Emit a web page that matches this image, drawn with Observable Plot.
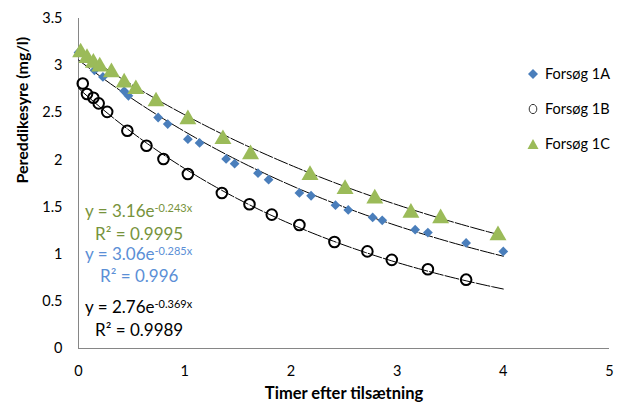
<!DOCTYPE html>
<html>
<head>
<meta charset="utf-8">
<script src="https://cdn.jsdelivr.net/npm/d3@7"></script>
<script src="https://cdn.jsdelivr.net/npm/@observablehq/plot@0.6"></script>
<style>
  body { margin: 0; background: #fff; }
  #wrap { position: relative; width: 622px; height: 409px; font-family: Lato, "Open Sans", sans-serif; }
  .eq { position: absolute; font-size: 17px; line-height: 14px; white-space: nowrap; }
  .eq sup { font-size: 11px; position: relative; top: -1px; vertical-align: top; line-height: 9px; }
  .leg { position: absolute; left: 527px; font-size: 14.5px; display: flex; align-items: center; white-space: nowrap; }
  .leg svg { margin-right: 6px; }
</style>
</head>
<body>
<div id="wrap"></div>
<script>
// Forsøg 1A (blue diamonds)
const xA = [0.00,0.15,0.23,0.43,0.47,0.75,0.84,1.03,1.14,1.39,1.47,1.69,1.79,2.08,2.19,2.42,2.54,2.77,2.86,3.17,3.29,3.65,4.00];
const yA = [3.14,2.95,2.88,2.73,2.68,2.45,2.38,2.22,2.18,2.01,1.96,1.86,1.79,1.65,1.62,1.52,1.47,1.39,1.36,1.26,1.23,1.12,1.03];
// Forsøg 1B (open circles)
const xB = [0.04,0.08,0.14,0.19,0.27,0.46,0.64,0.80,1.03,1.35,1.61,1.82,2.08,2.41,2.72,2.95,3.29,3.65];
const yB = [2.81,2.70,2.66,2.60,2.51,2.31,2.15,2.01,1.85,1.65,1.53,1.42,1.31,1.13,1.03,0.94,0.84,0.73];
// Forsøg 1C (green triangles)
const xC = [0.02,0.08,0.14,0.20,0.31,0.43,0.54,0.73,1.03,1.36,1.62,2.18,2.51,2.79,3.13,3.41,3.95];
const yC = [3.14,3.08,3.03,2.99,2.93,2.82,2.75,2.62,2.43,2.22,2.06,1.84,1.69,1.59,1.44,1.38,1.20];

// Exponential trendlines y = a·e^(b·x), shown in the chart
const fitSeries = ["1A","1B","1C"];
const fitA = [3.06, 2.76, 3.16];
const fitB = [-0.285, -0.369, -0.243];
const fitXmax = [4.00, 4.00, 3.95];

const xTicks = [0,1,2,3,4,5];
const yTicks = [0,0.5,1,1.5,2,2.5,3,3.5];

const seriesNames = ["Forsøg 1A","Forsøg 1B","Forsøg 1C"];

const toRows = (xs, ys) => xs.map((x, i) => ({x, y: ys[i]}));
const dataA = toRows(xA, yA), dataB = toRows(xB, yB), dataC = toRows(xC, yC);

const trend = [];
fitSeries.forEach((s, k) => {
  const n = 80;
  for (let i = 0; i <= n; i++) {
    const x = fitXmax[k] * i / n;
    trend.push({s, x, y: fitA[k] * Math.exp(fitB[k] * x)});
  }
});

const blue = "#4A7EBB", green = "#9BBB59";

const chart = Plot.plot({
  width: 622, height: 409,
  marginLeft: 78, marginRight: 13, marginTop: 18, marginBottom: 61,
  x: {domain: [0, 5]},
  y: {domain: [0, 3.5]},
  style: {fontFamily: "Lato, sans-serif", fontSize: "14.5px", color: "#000", background: "#fff"},
  marks: [
    Plot.axisX({ticks: xTicks, tickSize: 0, tickPadding: 17, label: null, tickFormat: d => String(d)}),
    Plot.axisY({ticks: yTicks, tickSize: 0, tickPadding: 16, label: null, tickFormat: d => String(d)}),
    Plot.ruleX([0], {stroke: "#868686"}),
    Plot.ruleY([0], {stroke: "#868686"}),
    Plot.line(trend, {x: "x", y: "y", z: "s", stroke: "#000", strokeWidth: 1, strokeDasharray: "14 2"}),
    Plot.dot(dataB, {x: "x", y: "y", r: 5.3, stroke: "#000", strokeWidth: 2, fill: "none"}),
    Plot.dot(dataA, {x: "x", y: "y", symbol: "diamond2", r: 4.4, fill: blue, stroke: "none"}),
    Plot.dot(dataC, {x: "x", y: "y", symbol: "triangle", r: 6.3, fill: green, stroke: "none"}),
    Plot.text(["Pereddikesyre (mg/l)"], {frameAnchor: "left", rotate: -90, dx: -56, fontWeight: "bold", fontSize: 16}),
    Plot.text(["Timer efter tilsætning"], {frameAnchor: "bottom", dy: 50, fontWeight: "bold", fontSize: 16.5})
  ]
});

const wrap = document.getElementById("wrap");
wrap.appendChild(chart);

// Trendline equations
const eqColors = ["#5B8FD6", "#000000", "#77933C"];
const eqPos = [ // [left, top] for equation, [left, top] for R²
  [[85, 247], [100, 269]],
  [[85, 300], [95, 323]],
  [[85, 204], [95, 227]]
];
const r2Vals = ["0.996", "0.9989", "0.9995"];
fitSeries.forEach((s, k) => {
  const e = document.createElement("div");
  e.className = "eq";
  e.style.left = eqPos[k][0][0] + "px"; e.style.top = eqPos[k][0][1] + "px";
  e.style.color = eqColors[k];
  e.innerHTML = `y = ${fitA[k].toFixed(2)}e<sup>${fitB[k]}x</sup>`;
  wrap.appendChild(e);
  const r = document.createElement("div");
  r.className = "eq";
  r.style.left = eqPos[k][1][0] + "px"; r.style.top = eqPos[k][1][1] + "px";
  r.style.color = eqColors[k];
  r.textContent = `R² = ${r2Vals[k]}`;
  wrap.appendChild(r);
});

// Legend
const legTops = [65, 100, 135];
const legSym = [
  `<svg width="12" height="12"><path d="M6,1 L11,6 L6,11 L1,6Z" fill="${blue}"/></svg>`,
  `<svg width="12" height="12"><ellipse cx="6" cy="6" rx="3.8" ry="4.6" fill="none" stroke="#333" stroke-width="1"/></svg>`,
  `<svg width="12" height="12"><path d="M6,1 L11.5,11 L0.5,11Z" fill="${green}"/></svg>`
];
seriesNames.forEach((name, k) => {
  const d = document.createElement("div");
  d.className = "leg";
  d.style.top = legTops[k] + "px";
  d.innerHTML = legSym[k] + `<span>${name}</span>`;
  wrap.appendChild(d);
});
</script>
</body>
</html>
